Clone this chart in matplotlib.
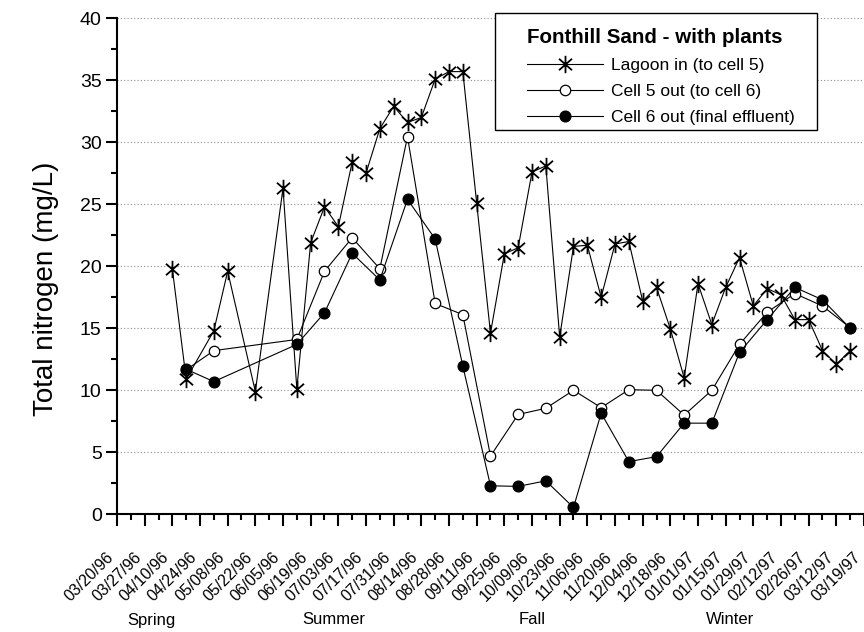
import matplotlib
matplotlib.use("Agg")
import matplotlib.pyplot as plt
from matplotlib.path import Path
from matplotlib.patches import Rectangle
from matplotlib.ticker import MultipleLocator, FixedLocator
from matplotlib import font_manager
import matplotlib.transforms as mtransforms

# ---------------- data ----------------
tick_labels = ["03/20/96", "03/27/96", "04/10/96", "04/24/96", "05/08/96", "05/22/96",
               "06/05/96", "06/19/96", "07/03/96", "07/17/96", "07/31/96", "08/14/96",
               "08/28/96", "09/11/96", "09/25/96", "10/09/96", "10/23/96", "11/06/96",
               "11/20/96", "12/04/96", "12/18/96", "01/01/97", "01/15/97", "01/29/97",
               "02/12/97", "02/26/97", "03/12/97", "03/19/97"]

# x position in weeks from the first axis tick
lagoon_weeks = [4, 5, 7, 8, 10, 12, 13, 14, 15, 16, 17, 18, 19, 20, 21, 22, 23, 24, 25,
                26, 27, 28, 29, 30, 31, 32, 33, 34, 35, 36, 37, 38, 39, 40, 41, 42, 43,
                44, 45, 46, 47, 48, 49, 50, 51, 52, 53]
lagoon_vals = [19.8, 10.9, 14.8, 19.6, 9.9, 26.3, 10.1, 21.9, 24.8, 23.2, 28.4, 27.5,
               31.1, 32.9, 31.6, 32.0, 35.1, 35.7, 35.7, 25.1, 14.6, 21.0, 21.5, 27.6,
               28.1, 14.3, 21.6, 21.7, 17.5, 21.8, 22.0, 17.2, 18.3, 14.95, 11.0, 18.6,
               15.3, 18.3, 20.7, 16.8, 18.2, 17.7, 15.7, 15.7, 13.2, 12.1, 13.2]

cell_weeks = [5, 7, 13, 15, 17, 19, 21, 23, 25, 27, 29, 31, 33, 35, 37, 39, 41, 43, 45,
              47, 49, 51, 53]
cell5_vals = [11.65, 13.2, 14.1, 19.6, 22.3, 19.8, 30.45, 17.0, 16.1, 4.7, 8.05, 8.55,
              10.0, 8.6, 10.05, 10.0, 8.0, 10.0, 13.7, 16.3, 17.8, 16.8, 15.05]
cell6_vals = [11.7, 10.7, 13.7, 16.25, 21.05, 18.9, 25.4, 22.2, 11.95, 2.3, 2.25, 2.7,
              0.55, 8.15, 4.25, 4.65, 7.35, 7.35, 13.05, 15.7, 18.3, 17.3, 15.0]

seasons = ["Spring", "Summer", "Fall", "Winter"]
season_pos = [2.5, 15.7, 30.0, 44.3]

legend_title = "Fonthill Sand - with plants"
series_labels = ["Lagoon in (to cell 5)", "Cell 5 out (to cell 6)", "Cell 6 out (final effluent)"]

# ---------------- style ----------------
plt.rcParams['font.family'] = ['Liberation Sans', 'DejaVu Sans']
names = {f.name for f in font_manager.fontManager.ttflist}
narrow = 'Liberation Sans Narrow' if 'Liberation Sans Narrow' in names else 'Liberation Sans'

star = Path([(0, -1), (0, 1), (-0.75, -0.66), (0.75, 0.66), (-0.75, 0.66), (0.75, -0.66)],
            [Path.MOVETO, Path.LINETO, Path.MOVETO, Path.LINETO, Path.MOVETO, Path.LINETO])

W, H = 864, 632
fig = plt.figure(figsize=(W / 100, H / 100), dpi=100)
ax = fig.add_axes([117 / W, 1 - 514.3 / H, 747 / W, 496 / H])

l1, = ax.plot(lagoon_weeks, lagoon_vals, color='black', lw=0.8, marker=star,
              markersize=12.5, mew=1.3, mec='black', zorder=3)
l2, = ax.plot(cell_weeks, cell5_vals, color='black', lw=0.8, marker='o', markersize=7.5,
              mfc='white', mec='black', mew=0.9, zorder=4)
l3, = ax.plot(cell_weeks, cell6_vals, color='black', lw=0.8, marker='o', markersize=7.8,
              mfc='black', mec='black', mew=0.9, zorder=5)

ax.set_xlim(0, 54)
ax.set_ylim(0, 40)

for s in ['top', 'right']:
    ax.spines[s].set_visible(False)
for s in ['left', 'bottom']:
    ax.spines[s].set_linewidth(1.5)

ax.yaxis.set_major_locator(MultipleLocator(5))
ax.yaxis.set_minor_locator(MultipleLocator(2.5))
ax.xaxis.set_major_locator(FixedLocator(list(range(0, 55, 2))))
ax.xaxis.set_minor_locator(FixedLocator(list(range(1, 55, 2))))
ax.set_xticklabels(tick_labels)

ax.tick_params(axis='y', which='major', direction='out', length=8, width=1.5,
               labelsize=14, pad=3)
ax.tick_params(axis='y', which='minor', direction='out', length=4.5, width=1.5)
ax.tick_params(axis='x', which='major', direction='out', length=8.4, width=1.5,
               labelsize=11.5, pad=17)
ax.tick_params(axis='x', which='minor', direction='out', length=4, width=1.5)

offset = mtransforms.ScaledTranslation(-11 / 100, 0, fig.dpi_scale_trans)
for lab in ax.get_xticklabels():
    lab.set_rotation(45)
    lab.set_ha('right')
    lab.set_va('top')
    lab.set_rotation_mode('anchor')
    lab.set_fontfamily([narrow, 'Liberation Sans'])
    lab.set_transform(lab.get_transform() + offset)

ax.grid(axis='y', which='major', linestyle=(0, (1, 2)), color='#8c8c8c', lw=0.8)
ax.set_axisbelow(True)
gl = ax.yaxis.get_gridlines()
gl[-1].set_visible(False)
gl[0].set_visible(False)

ax.set_ylabel("Total nitrogen (mg/L)", fontsize=20)
ax.yaxis.set_label_coords(-0.078, 0.454)

trans = mtransforms.blended_transform_factory(ax.transData, fig.transFigure)
for name, pos in zip(seasons, season_pos):
    ax.text(pos, 1 - 620 / H, name, transform=trans, ha='center', va='center',
            fontsize=12, family=[narrow, 'Liberation Sans'])

# legend frame (drawn separately so the content can sit inset like the original)
frame = Rectangle((495 / W, 1 - 130 / H), 322 / W, 117 / H, transform=fig.transFigure,
                  facecolor='white', edgecolor='black', lw=1.0, clip_on=False, zorder=6)
ax.add_patch(frame)

leg = ax.legend([l1, l2, l3], series_labels, title=legend_title, loc='upper left',
                bbox_to_anchor=(527 / W, 1 - 28 / H), bbox_transform=fig.transFigure,
                borderaxespad=0, borderpad=0, fontsize=12.5,
                title_fontproperties={'weight': 'bold', 'size': 14.8},
                frameon=False, handlelength=4.4, handletextpad=0.45, labelspacing=0.62,
                numpoints=1)
leg._legend_box.align = "left"
leg.set_zorder(7)

fig.savefig("out.png", dpi=100)
